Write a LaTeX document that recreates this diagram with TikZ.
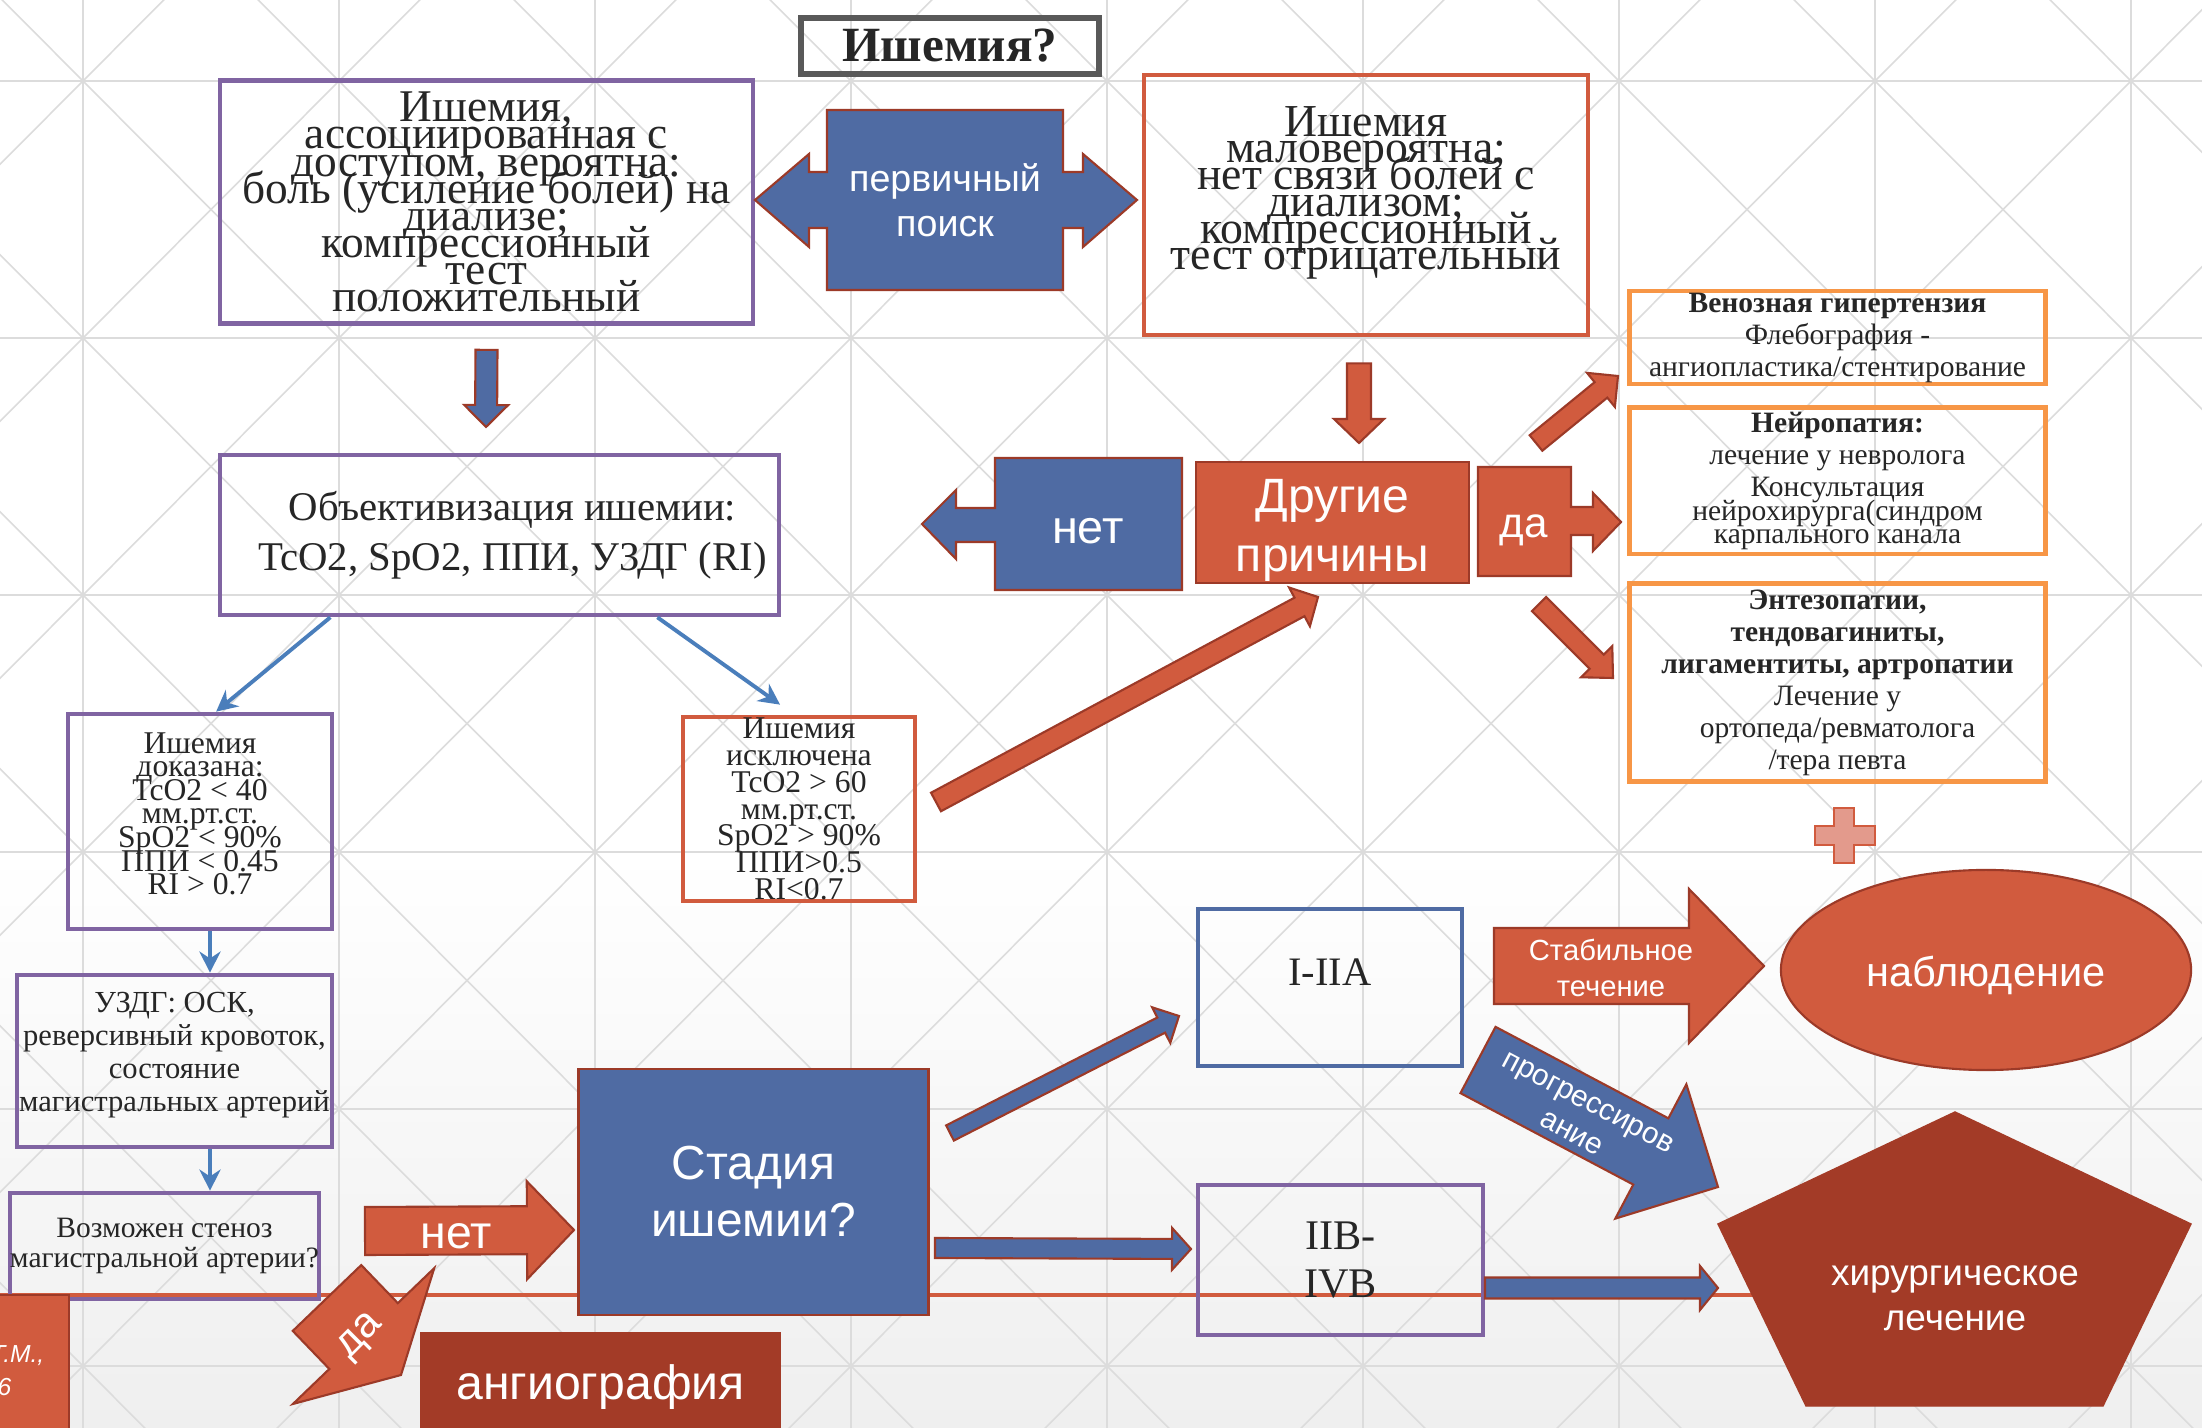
\documentclass[tikz,border=0pt]{standalone}
\usepackage{fontspec}
\setmainfont{Liberation Serif}
\setsansfont{Liberation Sans}
\usetikzlibrary{shapes,arrows.meta,calc,positioning}

\definecolor{arrblue}{HTML}{4F6BA3}
\definecolor{arrred}{HTML}{D15B3E}
\definecolor{darkred}{HTML}{A33B27}
\definecolor{rimred}{HTML}{9C3A28}
\definecolor{boxpurple}{HTML}{8064A2}
\definecolor{boxorange}{HTML}{F79646}
\definecolor{linkblue}{HTML}{4A7EBB}
\definecolor{txtgray}{HTML}{262626}
\definecolor{gridgray}{HTML}{DCDCDC}
\definecolor{bggray}{HTML}{EFEFEF}
\definecolor{pluspink}{HTML}{E39A8C}
\definecolor{titlegray}{HTML}{595959}

% font size with fixed line pitch (lines may overlap)
\newcommand{\setfs}[2]{\fontsize{#1}{#2}\selectfont\lineskiplimit=-\maxdimen}

% block arrow: style, tail, tip, half shaft, half head, head length (px)
\newcommand{\blockarrow}[6]{%
  \coordinate (ba-t) at (#2);
  \coordinate (ba-p) at (#3);
  \coordinate (ba-n) at ($(ba-p)!#6*0.01cm!(ba-t)$);
  \draw[#1] ($(ba-t)!#4*0.01cm!90:(ba-p)$) -- ($(ba-n)!#4*0.01cm!-90:(ba-t)$)
    -- ($(ba-n)!#5*0.01cm!-90:(ba-t)$) -- (ba-p) -- ($(ba-n)!#5*0.01cm!90:(ba-t)$)
    -- ($(ba-n)!#4*0.01cm!90:(ba-t)$) -- ($(ba-t)!#4*0.01cm!-90:(ba-p)$) -- cycle;
}

\tikzset{
  flowbox/.style={draw, line width=1.3pt, inner sep=0pt, align=center, text=txtgray},
  purplebox/.style={flowbox, draw=boxpurple},
  redbox/.style={flowbox, draw=arrred},
  orangebox/.style={flowbox, draw=boxorange, line width=1.4pt, font=\setfs{8.4}{9.1}},
  bluebox/.style={flowbox, draw=arrblue, line width=1.2pt},
  blueblk/.style={fill=arrblue, draw=rimred, line width=0.6pt},
  redblk/.style={fill=arrred, draw=rimred, line width=0.6pt},
  wlabel/.style={text=white, align=center, inner sep=0pt},
  thinarrow/.style={draw=linkblue, line width=1.1pt, -{Stealth[length=6pt,width=6pt]}},
  gridline/.style={draw=gridgray, line width=0.7pt},
  diagline/.style={draw=gridgray, line width=0.45pt},
}

\begin{document}
\begin{tikzpicture}[x=0.01cm,y=-0.01cm]
\useasboundingbox (0,0) rectangle (2202,1428);
\clip (0,0) rectangle (2202,1428);

% background
\fill[white] (0,0) rectangle (2202,1428);
\shade[top color=white, bottom color=bggray] (0,852) rectangle (2202,1428);
\foreach \i in {0,...,8}
{
\draw[gridline] (83+256*\i,0) -- (83+256*\i,1428);
}
\foreach \j in {0,...,5}
{
\draw[gridline] (0,81+257*\j) -- (2202,81+257*\j);
}
\foreach \i in {-1,...,8}
  \foreach \j in {-1,...,5}
  {
  \draw[diagline] (83+256*\i,81+257*\j) -- ++(256,257);
  \draw[diagline] (339+256*\i,81+257*\j) -- ++(-256,257);
  }
\draw[arrred, line width=0.9pt] (0,1295) -- (1800,1295);

% top row
\node[flowbox, draw=titlegray, line width=1.7pt, minimum width=2.98cm, minimum height=0.56cm,
  font=\bfseries\setfs{14}{16}] (title) at (950,46) {Ишемия?};

\node[purplebox, minimum width=5.33cm, minimum height=2.43cm, font=\setfs{12.9}{7.7}] (assoc) at (486.5,202)
  {Ишемия,\\ассоциированная с\\доступом, вероятна:\\боль (усиление болей) на\\диализе;\\компрессионный\\тест\\положительный};

\node[redbox, minimum width=4.44cm, minimum height=2.6cm, text depth=9.6pt, font=\setfs{13}{7.6}] (unlikely) at (1366,205)
  {Ишемия\\маловероятна;\\нет связи болей с\\диализом;\\компрессионный\\тест отрицательный};

\draw[blueblk] (827,110) -- (1063,110) -- (1063,172) -- (1083,172) -- (1083,154) -- (1137,200)
  -- (1083,247) -- (1083,228) -- (1063,228) -- (1063,290) -- (827,290) -- (827,228) -- (809,228)
  -- (809,247) -- (755,200) -- (809,154) -- (809,172) -- (827,172) -- cycle;
\node[wlabel, font=\sffamily\setfs{10.7}{12.8}] (primary) at (945,200) {первичный\\поиск};

\blockarrow{blueblk}{$(assoc.south)+(0,24)$}{486,427}{11}{22}{22}
\blockarrow{redblk}{$(unlikely.south)+(-7,26)$}{1359,443}{12}{25}{24}

% second row
\node[purplebox, minimum width=5.59cm, minimum height=1.6cm, font=\setfs{11.6}{14.2}] (objective) at (499.5,535)
  {\hspace*{0.26cm}Объективизация ишемии:\\\hspace*{0.26cm}TcO2, SpO2, ППИ, УЗДГ (RI)};

\draw[blueblk] (995,458) -- (1182,458) -- (1182,590) -- (995,590) -- (995,542) -- (956,542)
  -- (956,559) -- (922,524) -- (956,490) -- (956,508) -- (995,508) -- cycle;
\node[wlabel, font=\sffamily\setfs{13.3}{16}] (no1) at (1088,531) {нет};

\node[wlabel, fill=arrred, draw=rimred, line width=0.8pt, minimum width=2.73cm, minimum height=1.21cm,
  text depth=0pt] (other) at (1332.5,522.5) {};
\node[wlabel, font=\sffamily\setfs{13.7}{16.8}] (othertxt) at (1332.5,530) {Другие\\причины};

\draw[redblk] (1478,467) -- (1571,467) -- (1571,507) -- (1593,507) -- (1593,493) -- (1621,522)
  -- (1593,551) -- (1593,535) -- (1571,535) -- (1571,576) -- (1478,576) -- cycle;
\node[wlabel, font=\sffamily\setfs{12}{14}] (yes1) at (1524,530) {да};

\blockarrow{redblk}{1536,443}{1618,376}{10}{22}{22}
\blockarrow{redblk}{1539,604}{1613,678}{10}{22}{23}

\node[orangebox, minimum width=4.15cm, minimum height=0.93cm] (venous) at (1837.5,337.5)
  {\textbf{Венозная гипертензия}\\Флебография -\\ангиопластика/стентирование};
\node[orangebox, minimum width=4.15cm, minimum height=1.46cm] (neuro) at (1837.5,481)
  {\textbf{Нейропатия:}\\лечение у невролога\\Консультация\\[-2.3pt]нейрохирурга(синдром\\[-2.3pt]карпального канала};
\node[orangebox, minimum width=4.15cm, minimum height=1.97cm] (enthes) at (1837.5,682.5)
  {\textbf{Энтезопатии,}\\\textbf{тендовагиниты,}\\\textbf{лигаментиты, артропатии}\\Лечение у\\ортопеда/ревматолога\\/тера певта};

\draw[fill=pluspink, draw=arrred, line width=0.6pt] (1834,808) -- (1854,808) -- (1854,826) -- (1875,826)
  -- (1875,845) -- (1854,845) -- (1854,863) -- (1834,863) -- (1834,845) -- (1815,845) -- (1815,826)
  -- (1834,826) -- cycle;

% left column
\node[purplebox, minimum width=2.64cm, minimum height=2.15cm, text depth=4.5pt, font=\setfs{9}{6.7}] (proven) at (200,821.5)
  {Ишемия\\доказана:\\TcO2 < 40\\мм.рт.ст.\\SpO2 < 90\%\\ППИ < 0.45\\RI > 0.7};
\node[redbox, minimum width=2.32cm, minimum height=1.84cm, font=\setfs{9}{7.6}] (excluded) at (799,809)
  {Ишемия\\исключена\\TcO2 > 60\\мм.рт.ст.\\SpO2 > 90\%\\ППИ>0.5\\RI<0.7};

\draw[thinarrow] ($(objective.south west)!0.2!(objective.south east)$) -- ($(proven.north west)!0.56!(proven.north east)$);
\draw[thinarrow] ($(objective.south west)!0.78!(objective.south east)$) -- ([yshift=0.1cm]$(excluded.north west)!0.42!(excluded.north east)$);

\blockarrow{redblk}{936,802}{1318,597}{10.5}{22}{21}

\node[purplebox, minimum width=3.15cm, minimum height=1.72cm, text depth=5.3pt, font=\setfs{8.7}{9.4}] (doppler) at (174.5,1061)
  {УЗДГ: ОСК,\\реверсивный кровоток,\\состояние\\магистральных артерий};
\node[purplebox, minimum width=2.95cm, minimum height=1.06cm, font=\setfs{8.4}{8.5}] (stenosis) at (164.5,1246)
  {Возможен стеноз\\магистральной артерии?};

\coordinate (gi) at ($(proven.south)+(10,0)$);
\coordinate (ij) at (gi |- doppler.south);
\draw[thinarrow] (gi) -- (gi |- doppler.north);
\draw[thinarrow] (ij) -- (ij |- stenosis.north);

% credit
\filldraw[fill=arrred, draw=rimred, line width=0.6pt] (-10,1295) rectangle (69,1440);
\node[anchor=base east, text=white, inner sep=0pt, font=\sffamily\itshape\setfs{7}{8}] (credit1) at (45,1363) {Т.М.,};
\node[anchor=base east, text=white, inner sep=0pt, font=\sffamily\itshape\setfs{7}{8}] (credit2) at (12,1395) {6};

% bottom row
\blockarrow{redblk}{365,1231}{574,1230}{24}{49}{47}
\node[wlabel, font=\sffamily\setfs{13.2}{15}] (no2) at (456,1236) {нет};

\blockarrow{redblk}{327,1298}{401,1375}{47.5}{98}{54}
\node[wlabel, rotate=45, font=\sffamily\setfs{12}{14}] (yes2) at (361,1337) {да};

\node[wlabel, fill=darkred, minimum width=3.61cm, minimum height=1.09cm,
  font=\sffamily\setfs{13.7}{16}] (angio) at (600.5,1387) {ангиография};

\node[wlabel, fill=arrblue, draw=rimred, line width=0.8pt, minimum width=3.49cm, minimum height=2.46cm,
  font=\sffamily\setfs{13.6}{16.2}] (stage) at (753.5,1192) {Стадия\\ишемии?};

\blockarrow{blueblk}{950,1133}{1179,1016}{8.5}{20}{20}
\blockarrow{blueblk}{935,1248}{1191,1249}{10}{21}{19}

\node[bluebox, minimum width=2.64cm, minimum height=1.57cm, text depth=8.8pt, font=\setfs{11.5}{13}] (early) at (1330,987.5) {I-IIA};
\node[purplebox, minimum width=2.85cm, minimum height=1.5cm, font=\setfs{12}{13.4}] (late) at (1340.5,1260) {IIB-\\IVB};

\blockarrow{blueblk}{1485,1288}{1718,1288}{10.5}{22}{18}

\blockarrow{redblk}{1494,966}{1764,966}{38}{77}{75}
\node[wlabel, font=\sffamily\setfs{8.3}{10}] (stable) at (1611,968) {Стабильное\\течение};

\node[ellipse, fill=arrred, draw=rimred, line width=0.6pt, minimum width=4.1cm, minimum height=2cm] (watch) at (1986,970) {};
\node[wlabel, font=\sffamily\setfs{11.8}{14}] (watchtxt) at (1986,975) {наблюдение};

\blockarrow{blueblk}{1478,1060}{1718,1187}{37.5}{76}{76}
\node[wlabel, rotate=-28, font=\sffamily\setfs{8.5}{10}] (progress) at (1580,1118) {прогрессиров\\ание};

\filldraw[fill=darkred, draw=darkred] (1955,1112) -- (2191,1224) -- (2103,1406) -- (1806,1406) -- (1718,1224) -- cycle;
\node[wlabel, font=\sffamily\setfs{10.5}{12.8}] (surgery) at (1955,1298) {хирургическое\\лечение};

\end{tikzpicture}
\end{document}
